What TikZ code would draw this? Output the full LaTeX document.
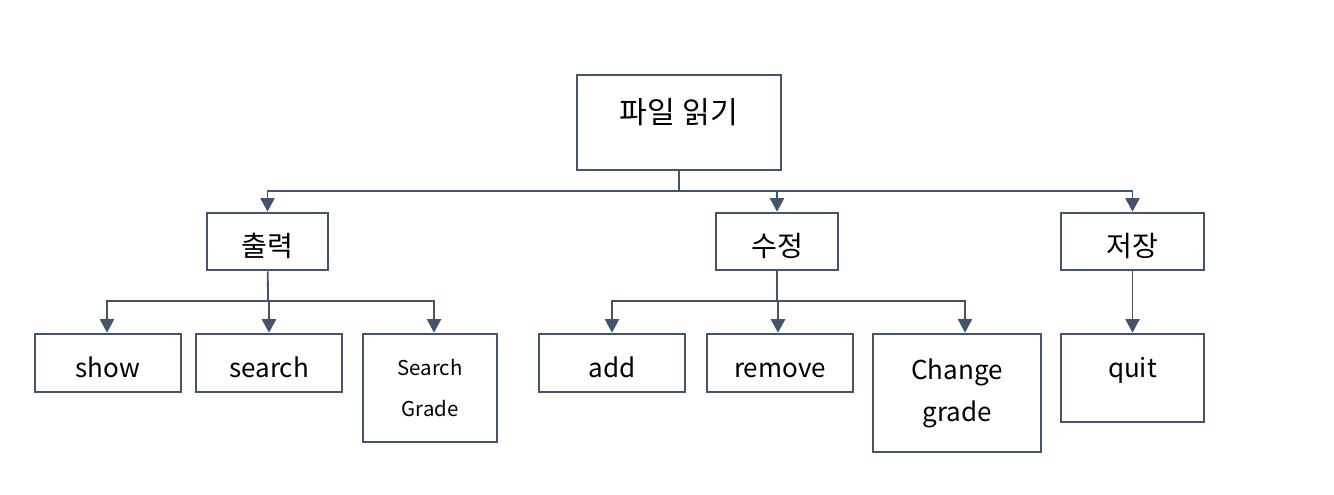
\documentclass[tikz,border=0pt]{standalone}
\usepackage{fontspec}
\setmainfont{Noto Sans CJK KR}
\usetikzlibrary{arrows.meta}
\definecolor{slate}{HTML}{44546A}
\tikzset{
  box/.style={draw=slate, line width=1.9pt, fill=white, inner sep=0pt, align=center,
    font=\fontsize{18.5}{30}\selectfont},
  single/.style={box, text height=0.86cm, text depth=0.12cm},
  kor/.style={font=\fontsize{20}{24}\selectfont},
  conn/.style={draw=slate, line width=0.8pt},
  stem/.style={draw=slate, line width=1.3pt},
  >={Triangle[width=0.36cm,length=0.34cm]}
}
\begin{document}
\begin{tikzpicture}[x=0.025cm,y=-0.025cm]
            \useasboundingbox (0,0) rectangle (1334,494);

            \node[box, kor, font=\fontsize{21.5}{26}\selectfont, text height=0.5cm, text depth=0.435cm,
              minimum width=5.1cm, minimum height=2.375cm] (read) at (679,122.5) {파일 읽기};

            \node[single, kor, minimum width=3.025cm, minimum height=1.425cm] (print) at (267.5,241.5) {출력};
            \node[single, kor, minimum width=3.05cm, minimum height=1.425cm] (edit) at (777,241.5) {수정};
            \node[single, kor, minimum width=3.575cm, minimum height=1.425cm] (save) at (1132.5,241.5) {저장};

            \node[single, minimum width=3.65cm, minimum height=1.45cm] (show) at (108,363) {show};
            \node[single, minimum width=3.65cm, minimum height=1.45cm] (search) at (269,363) {search};
            \node[box, minimum width=3.35cm, minimum height=2.7cm, font=\fontsize{14.5}{29}\selectfont] (sgrade) at (430,388) {Search\\Grade};

            \node[single, minimum width=3.65cm, minimum height=1.45cm] (add) at (612,363) {add};
            \node[single, minimum width=3.65cm, minimum height=1.45cm] (remove) at (780,363) {remove};
            \node[box, minimum width=4.2cm, minimum height=2.95cm] (change) at (957,393) {Change\\grade};
            \node[box, minimum width=3.575cm, minimum height=2.2cm, text depth=0.55cm] (quit) at (1132.5,378) {quit};

            % top level
            \coordinate (bus1) at (679,191);
            \draw[stem] (read) -- (bus1);
            \draw[conn,->] (bus1) -| (print);
            \draw[conn,->] (bus1) -| (edit);
            \draw[conn,->] (bus1) -| (save);

            % 출력
            \coordinate (bus2) at (268,301);
            \draw[stem] (print) -- (bus2);
            \draw[conn,->] (bus2) -| ([xshift=-0.025cm]show.north);
            \draw[stem,->] (bus2) -| (search);
            \draw[conn,->] (bus2) -| ([xshift=0.1cm]sgrade.north);

            % 수정
            \coordinate (bus3) at (777,301);
            \draw[stem] (edit) -- (bus3);
            \draw[conn,->] (bus3) -| (add);
            \draw[stem,->] (bus3) -| ([xshift=-0.05cm]remove.north);
            \draw[conn,->] (bus3) -| ([xshift=0.2cm]change.north);

            % 저장
            \draw[conn,->] (save) -- (quit);
        \end{tikzpicture}
\end{document}
